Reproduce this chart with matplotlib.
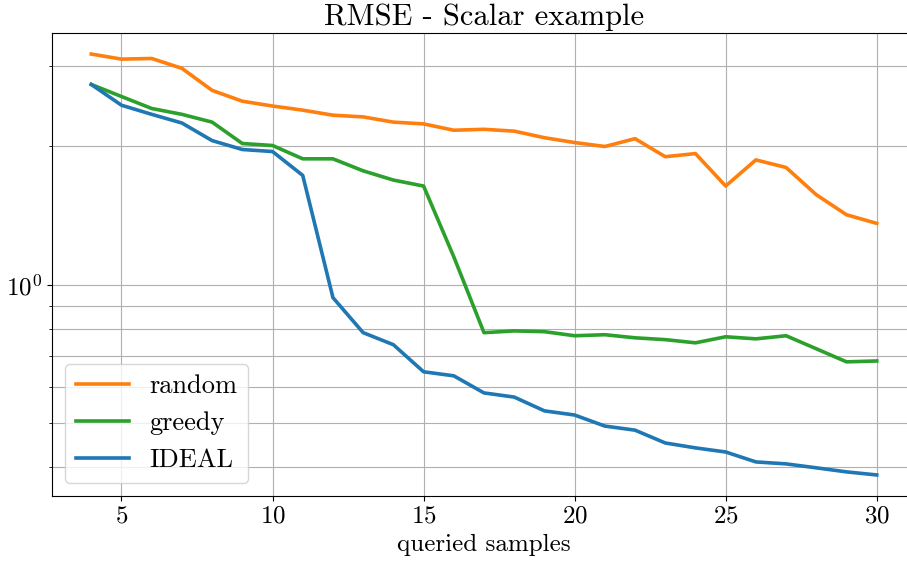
import numpy as np
import matplotlib
matplotlib.use("Agg")
import matplotlib.pyplot as plt
from matplotlib.ticker import NullFormatter

plt.rcParams["font.family"] = "serif"
plt.rcParams["font.serif"] = ["cmr10", "DejaVu Serif"]
plt.rcParams["mathtext.fontset"] = "cm"
plt.rcParams["axes.formatter.use_mathtext"] = True

# queried samples
samples = np.arange(4, 31)

rmse_random = [3.18, 3.10, 3.11, 2.96, 2.65, 2.51, 2.45, 2.40, 2.34, 2.32,
               2.26, 2.24, 2.17, 2.18, 2.16, 2.09, 2.04, 2.00, 2.08, 1.90,
               1.93, 1.64, 1.87, 1.80, 1.57, 1.42, 1.36]
rmse_greedy = [2.73, 2.57, 2.42, 2.35, 2.26, 2.03, 2.01, 1.88, 1.88, 1.77,
               1.69, 1.64, 1.15, 0.786, 0.793, 0.790, 0.774, 0.778, 0.766, 0.759,
               0.747, 0.770, 0.762, 0.774, 0.725, 0.679, 0.682]
rmse_ideal = [2.73, 2.46, 2.35, 2.25, 2.06, 1.97, 1.95, 1.73, 0.937, 0.786,
              0.740, 0.646, 0.633, 0.581, 0.569, 0.531, 0.520, 0.492, 0.482, 0.452,
              0.441, 0.432, 0.411, 0.407, 0.399, 0.391, 0.385]

fig = plt.figure(figsize=(9.07, 5.63), dpi=100)
# axes runs a bit past the right edge, like the cropped original
ax = fig.add_axes([52 / 907, 67 / 563, 864 / 907, 463 / 563])

ax.plot(samples, rmse_random, color="C1", lw=2.6, label="random")
ax.plot(samples, rmse_greedy, color="C2", lw=2.6, label="greedy")
ax.plot(samples, rmse_ideal, color="C0", lw=2.6, label="IDEAL")

ax.set_yscale("log")
ax.yaxis.set_minor_formatter(NullFormatter())
ax.grid(True, which="both")

ax.set_title("RMSE - Scalar example", fontsize=22)
ax.set_xlabel("queried samples", fontsize=18)
ax.tick_params(labelsize=18)
ax.legend(loc="lower left", fontsize=19)

fig.savefig("out.png", dpi=100)
